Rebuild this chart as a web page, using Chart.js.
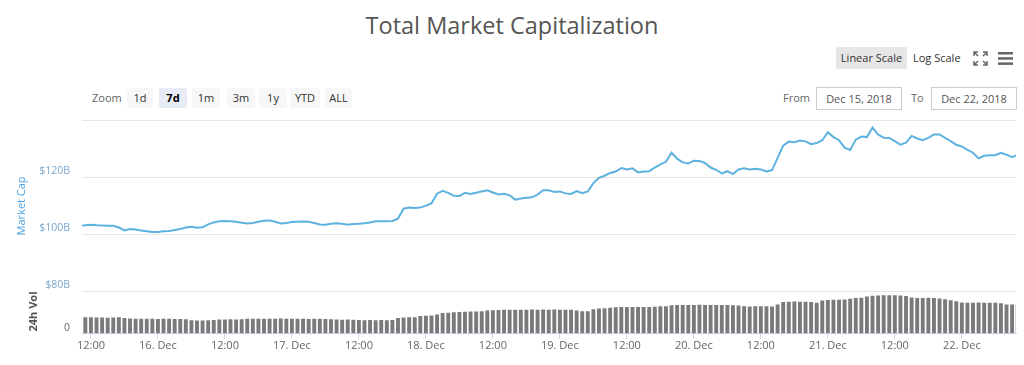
<!DOCTYPE html>
<html>
<head>
<meta charset="utf-8">
<script src="https://cdn.jsdelivr.net/npm/chart.js@4.4.1/dist/chart.umd.min.js"></script>
<style>
  body { margin: 0; width: 1024px; height: 365px; background: #fff; position: relative; overflow: hidden;
         font-family: "Open Sans", sans-serif; }
  #title { position: absolute; top: 9px; left: 0; width: 1024px; text-align: center; font-size: 23.5px; color: #555; }
  .txt { position: absolute; font-size: 11px; color: #666; line-height: 20px; }
  .btn { position: absolute; top: 88px; height: 20px; line-height: 20px; font-size: 11px; color: #333;
         background: #f7f7f7; text-align: center; border-radius: 2px; }
  .btn.on { background: #e6ebf5; font-weight: bold; color: #000; }
  .box { position: absolute; top: 87px; height: 21px; line-height: 21px; border: 1px solid #ccc; font-size: 11px;
         color: #555; text-align: center; }
  #wrap { position: absolute; left: 0; top: 102px; width: 1024px; height: 263px; }
</style>
</head>
<body>
<div id="title">Total Market Capitalization</div>

<div class="btn" style="left:836px;top:47px;width:71px;height:22px;line-height:22px;background:#e6e6e6;">Linear Scale</div>
<div class="txt" style="left:913px;top:48px;color:#333;">Log Scale</div>
<svg style="position:absolute;left:973px;top:51px" width="15" height="15" viewBox="0 0 15 15">
  <g stroke="#666" stroke-width="1.5" fill="none">
    <path d="M1 5 L1 1 L5 1 M1 1 L5 5"/>
    <path d="M10 1 L14 1 L14 5 M14 1 L10 5"/>
    <path d="M1 10 L1 14 L5 14 M1 14 L5 10"/>
    <path d="M14 10 L14 14 L10 14 M14 14 L10 10"/>
  </g>
</svg>
<svg style="position:absolute;left:998px;top:51px" width="15" height="15" viewBox="0 0 15 15">
  <g fill="#666"><rect x="0" y="1" width="15" height="2.5"/><rect x="0" y="6.2" width="15" height="2.5"/><rect x="0" y="11.4" width="15" height="2.5"/></g>
</svg>

<div class="txt" style="left:92px;top:88px;">Zoom</div>
<div class="btn" style="left:127px;width:26px;">1d</div>
<div class="btn on" style="left:159px;width:28px;">7d</div>
<div class="btn" style="left:192px;width:28px;">1m</div>
<div class="btn" style="left:227px;width:28px;">3m</div>
<div class="btn" style="left:259px;width:28px;">1y</div>
<div class="btn" style="left:290px;width:30px;">YTD</div>
<div class="btn" style="left:325px;width:27px;">ALL</div>

<div class="txt" style="left:783px;top:88px;">From</div>
<div class="box" style="left:816px;width:84px;">Dec 15, 2018</div>
<div class="txt" style="left:911px;top:88px;">To</div>
<div class="box" style="left:931px;width:84px;">Dec 22, 2018</div>

<div id="wrap"><canvas id="chart"></canvas></div>

<script>
// hourly samples, hours counted from Dec 15 00:00
var startHour = 10;

// total market cap, $B
var marketCap = [
    103.0, 103.1, 103.3, 103.1, 103.0, 102.9, 102.9, 102.3, 101.3, 101.8,
    101.6, 101.25, 101.0, 100.7, 100.7, 101.0, 101.1, 101.4, 101.8, 102.3,
    102.6, 102.25, 102.4, 103.4, 104.1, 104.5, 104.6, 104.5, 104.3, 104.0,
    103.75, 103.9, 104.3, 104.7, 104.8, 104.3, 103.7, 103.9, 104.2, 104.3,
    104.4, 104.3, 103.9, 103.4, 103.3, 103.6, 103.8, 103.6, 103.3, 103.5,
    103.6, 103.8, 104.1, 104.5, 104.5, 104.5, 104.6, 105.4, 108.9, 109.3,
    109.2, 109.3, 110.0, 110.8, 114.2, 115.2, 114.5, 113.5, 113.4, 114.5,
    114.1, 114.5, 115.0, 115.4, 114.6, 113.9, 114.2, 113.6, 112.1, 112.5,
    112.75, 112.9, 113.9, 115.4, 115.4, 114.8, 115.0, 114.3, 114.1, 115.1,
    114.4, 115.0, 117.9, 119.8, 120.5, 121.5, 122.0, 123.2, 122.7, 123.1,
    121.7, 122.0, 122.1, 123.4, 124.5, 125.4, 128.6, 126.5, 125.2, 124.8,
    125.8, 125.7, 125.0, 123.4, 122.6, 121.3, 122.1, 121.1, 122.7, 123.1,
    122.7, 123.0, 122.7, 122.0, 122.5, 126.8, 131.1, 132.5, 132.3, 132.9,
    132.6, 131.6, 132.0, 133.0, 135.8, 134.1, 133.0, 130.4, 129.6, 133.2,
    134.3, 134.1, 137.5, 135.0, 133.9, 133.8, 132.7, 131.4, 132.1, 134.5,
    133.6, 133.0, 133.8, 135.0, 135.0, 133.8, 132.7, 131.4, 130.8, 129.6,
    128.6, 126.6, 127.5, 127.7, 127.7, 128.6, 127.9, 127.0, 127.9
];

// 24h volume, $B
var volume24h = [
    31.0, 31.3, 31.1, 30.7, 31.0, 30.5, 30.8, 31.1, 30.0, 29.0,
    28.5, 28.7, 28.3, 28.5, 28.1, 28.6, 28.4, 28.2, 28.0, 27.5,
    25.5, 25.3, 25.1, 25.4, 26.0, 27.2, 27.0, 27.3, 27.1, 27.7,
    28.6, 28.4, 28.7, 28.5, 28.3, 28.6, 28.8, 28.5, 28.4, 28.6,
    28.5, 28.2, 28.4, 28.5, 28.1, 27.3, 26.9, 26.7, 27.0, 26.5,
    25.9, 25.8, 26.0, 25.7, 25.9, 25.8, 26.0, 30.0, 30.8, 31.1,
    31.3, 33.5, 34.2, 34.5, 36.5, 39.3, 39.9, 40.7, 41.2, 41.5,
    42.1, 42.4, 42.8, 44.0, 44.7, 45.0, 45.3, 45.5, 45.7, 45.5,
    45.7, 45.9, 45.5, 45.8, 45.6, 46.0, 45.7, 45.5, 45.3, 44.0,
    42.5, 42.7, 46.5, 48.0, 48.5, 49.1, 50.0, 50.5, 50.7, 50.8,
    50.5, 50.7, 50.9, 51.0, 52.0, 52.1, 54.0, 54.5, 54.7, 54.5,
    54.6, 54.8, 54.5, 54.7, 54.5, 54.3, 54.5, 54.0, 53.7, 52.0,
    51.8, 52.1, 51.9, 52.0, 51.8, 55.5, 60.0, 60.8, 61.0, 60.7,
    60.5, 60.0, 58.9, 63.0, 64.0, 64.5, 64.3, 64.7, 66.5, 67.8,
    68.0, 70.5, 72.0, 72.5, 72.8, 73.0, 72.8, 72.5, 71.5, 68.5,
    67.8, 67.5, 68.0, 67.7, 67.0, 65.5, 63.5, 61.5, 59.0, 58.9,
    58.8, 59.1, 58.7, 58.9, 58.5, 58.0, 55.5, 55.2, 55.0
];

var timeTicks = [12, 24, 36, 48, 60, 72, 84, 96, 108, 120, 132, 144, 156, 168];
var timeLabels = ['12:00', '16. Dec', '12:00', '17. Dec', '12:00', '18. Dec', '12:00',
                  '19. Dec', '12:00', '20. Dec', '12:00', '21. Dec', '12:00', '22. Dec'];
var capTicks = [100, 120, 140];
var capLabels = ['$100B', '$120B', ''];
var volTicks = [0, 80];
var volLabels = ['0', '$80B'];

Chart.defaults.font.family = "'Open Sans', sans-serif";

var capPoints = marketCap.map((v, i) => ({ x: startHour + i, y: v }));
var volPoints = volume24h.map((v, i) => ({ x: startHour + i, y: v }));

var ctx = document.getElementById('chart').getContext('2d');
var chart = new Chart(ctx, {
    type: 'line',
    data: {
        datasets: [{
            label: 'Market Cap',
            data: capPoints,
            yAxisID: 'y',
            borderColor: '#5db2df',
            borderWidth: 2,
            pointRadius: 0,
            tension: 0
        }, {
            type: 'bar',
            label: '24h Vol',
            data: volPoints,
            yAxisID: 'y2',
            backgroundColor: '#7a7a7a',
            categoryPercentage: 1,
            barPercentage: 0.7
        }]
    },
    options: {
        responsive: true,
        maintainAspectRatio: false,
        animation: false,
        layout: { padding: { left: 0, right: 8, top: 8, bottom: 13 } },
        plugins: {
            legend: { display: false },
            tooltip: { enabled: false }
        },
        scales: {
            x: {
                type: 'linear',
                min: 10.4,
                max: 177.7,
                offset: false,
                afterBuildTicks: s => { s.ticks = timeTicks.map(v => ({ value: v })); },
                ticks: {
                    autoSkip: false,
                    maxRotation: 0,
                    padding: 0,
                    color: '#666',
                    font: { size: 11 },
                    callback: v => timeLabels[timeTicks.indexOf(v)]
                },
                grid: { drawOnChartArea: false, offset: false, tickLength: 5, color: '#ccd6eb' },
                border: { color: '#ccd6eb' }
            },
            y2: {
                position: 'left',
                stack: 'main',
                stackWeight: 42,
                min: 0,
                max: 80,
                afterBuildTicks: s => { s.ticks = volTicks.map(v => ({ value: v })); },
                afterFit: s => { s.width = 82; },
                ticks: {
                    padding: 12,
                    labelOffset: -6,
                    color: c => c.tick && c.tick.value === 0 ? '#666' : '#7ba7cc',
                    font: { size: 10.5 },
                    callback: v => volLabels[volTicks.indexOf(v)]
                },
                grid: { color: c => c.tick && c.tick.value === 0 ? 'rgba(0,0,0,0)' : '#e6e6e6', drawTicks: false },
                border: { display: false },
                title: {
                    display: true,
                    text: '24h Vol',
                    color: '#555',
                    align: 'end',
                    font: { size: 11, weight: 'bold' },
                    padding: { top: 27, bottom: 0 }
                }
            },
            y: {
                position: 'left',
                stack: 'main',
                stackWeight: 170,
                min: 79.8,
                max: 140,
                afterBuildTicks: s => { s.ticks = capTicks.map(v => ({ value: v })); },
                afterFit: s => { s.width = 82; },
                ticks: {
                    padding: 12,
                    labelOffset: -6,
                    color: '#7ba7cc',
                    font: { size: 10.5 },
                    callback: v => capLabels[capTicks.indexOf(v)]
                },
                grid: { color: '#e6e6e6', drawTicks: false },
                border: { display: false },
                title: {
                    display: true,
                    text: 'Market Cap',
                    color: '#4aa3df',
                    font: { size: 11 },
                    padding: { top: 15, bottom: 0 }
                }
            }
        }
    }
});
</script>
</body>
</html>
